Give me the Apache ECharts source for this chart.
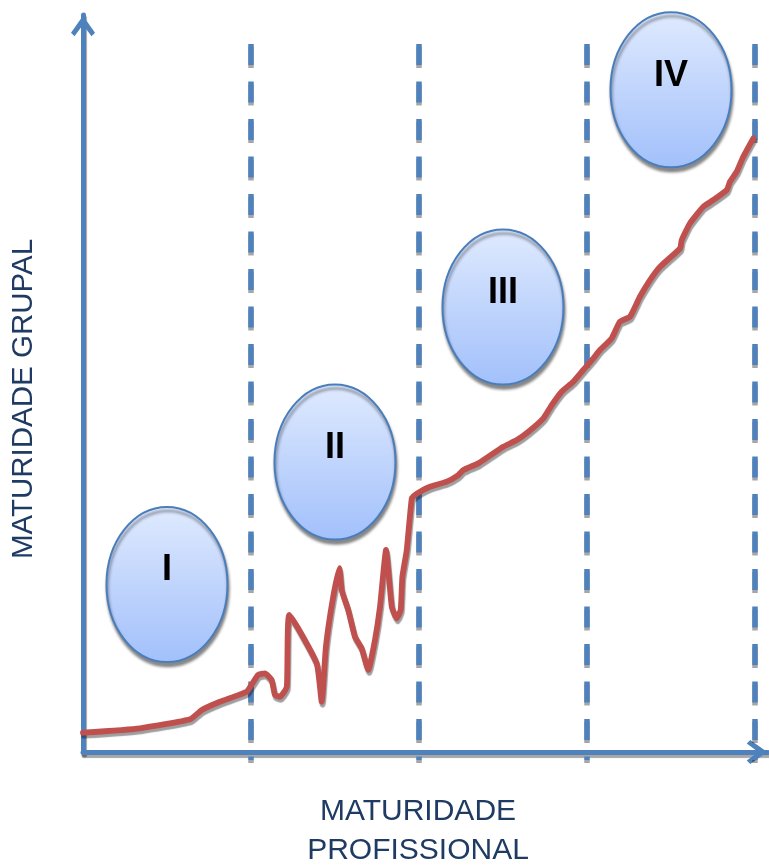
<!DOCTYPE html>
<html>
<head>
<meta charset="utf-8">
<script src="https://cdn.jsdelivr.net/npm/echarts@6/dist/echarts.min.js"></script>
<style>
html,body{margin:0;padding:0;background:#fff;}
#chart{width:769px;height:866px;}
</style>
</head>
<body>
<div id="chart"></div>
<script>
// ---- data (x: each stage = 100 units; y: 0..100) ----
const curveX = [0, 33.9, 63.7, 70.7, 81.5, 97.4, 100.6, 104.2, 108.3, 112.3, 114.3, 117.3, 121.3, 122.8, 139.1, 142.1, 144.6, 148.6, 152.6, 154.0, 157.9, 161.9, 165.9, 169.8, 173.8, 176.8, 180.4, 183.8, 186.7, 189.1, 190.1, 192.7, 195.7, 197.6, 200.6, 206.5, 216.5, 223.4, 226.4, 235.3, 241.3, 250.2, 258.2, 265.1, 274.0, 279.0, 284.9, 291.8, 297.8, 303.8, 307.7, 314.7, 319.6, 325.6, 331.5, 337.5, 343.5, 355.4, 356.4, 361.3, 369.2, 375.2, 383.2, 385.1, 389.1, 393.0, 399.0];
const curveY = [2.62, 3.22, 4.44, 5.70, 6.82, 8.18, 9.23, 10.45, 10.68, 9.77, 7.73, 7.50, 8.86, 18.59, 12.04, 6.82, 14.29, 20.62, 24.93, 21.98, 19.27, 15.64, 14.07, 11.13, 15.20, 19.72, 27.41, 19.72, 18.14, 19.27, 23.79, 27.41, 34.42, 34.87, 35.32, 36.00, 36.68, 37.58, 38.26, 39.17, 40.07, 41.42, 42.33, 43.46, 45.28, 47.08, 48.89, 50.24, 51.83, 53.42, 54.55, 56.13, 58.39, 59.07, 61.78, 64.04, 65.85, 68.34, 69.47, 71.74, 73.99, 74.90, 76.26, 77.38, 78.74, 80.77, 83.27];
const stageLabels = ['I', 'II', 'III', 'IV'];
const stageX = [50, 150, 250, 350];
const stageY = [22.73, 39.35, 60.38, 89.86];
const dividerX = [100, 200, 300, 400];
const dividerTop = 96.07;
const dividerBottom = -1.09;
const xTitle = 'MATURIDADE\nPROFISSIONAL';
const yTitle = 'MATURIDADE GRUPAL';

// ---- styles ----
const BLUE = '#4f81bd';
const RED = '#c0504d';
const NAVY = '#1f3b63';
const chevron = 'path://M12,0 L24,17 L20.5,20.5 L12,9 L3.5,20.5 L0,17 Z';

const chart = echarts.init(document.getElementById('chart'), null, {renderer: 'canvas'});

const axisLineCommon = {
  show: true,
  symbol: ['none', chevron],
  symbolSize: [24, 22],
  symbolOffset: [0, -11],
  lineStyle: {color: BLUE, width: 5, shadowColor: 'rgba(0,0,0,0.35)', shadowOffsetX: 1, shadowOffsetY: 3, shadowBlur: 1}
};

const series = [];
dividerX.forEach(function (dx) {
  series.push({
    type: 'line',
    data: [[dx, dividerTop], [dx, dividerBottom]],
    symbol: 'none',
    clip: false,
    silent: true,
    z: 1,
    lineStyle: {color: BLUE, width: 5.5, type: [21, 16.5], cap: 'butt',
      shadowColor: 'rgba(0,0,0,0.35)', shadowOffsetX: 0, shadowOffsetY: 3, shadowBlur: 0}
  });
});

series.push({
  type: 'line',
  data: curveX.map(function (x, i) { return [x, curveY[i]]; }),
  symbol: 'none',
  smooth: 0.15,
  clip: false,
  z: 3,
  lineStyle: {color: RED, width: 5.8, join: 'round', cap: 'round',
    shadowColor: 'rgba(0,0,0,0.38)', shadowOffsetX: 1, shadowOffsetY: 3, shadowBlur: 1}
});

series.push({
  type: 'custom',
  z: 5,
  data: stageX.map(function (x, i) { return [x, stageY[i]]; }),
  renderItem: function (params, api) {
    const c = api.coord([api.value(0), api.value(1)]);
    return {
      type: 'group',
      children: [
        {
          type: 'ellipse',
          shape: {cx: c[0], cy: c[1], rx: 60.5, ry: 77.5},
          style: {
            fill: new echarts.graphic.LinearGradient(0, 0, 0, 1, [
              {offset: 0, color: '#dfeafe'},
              {offset: 1, color: '#a2c0fb'}
            ]),
            stroke: '#4a7ebb', lineWidth: 2,
            shadowColor: 'rgba(0,0,0,0.45)', shadowBlur: 3, shadowOffsetX: 1, shadowOffsetY: 4
          }
        },
        {
          type: 'text',
          x: c[0], y: c[1] - 14,
          style: {
            text: stageLabels[params.dataIndex],
            fill: '#000',
            font: 'bold 36px "Liberation Sans", Arial, sans-serif',
            align: 'center', verticalAlign: 'middle'
          }
        }
      ]
    };
  }
});

chart.setOption({
  animation: false,
  backgroundColor: '#fff',
  grid: {left: 83, right: 1, top: 15, bottom: 114, containLabel: false},
  xAxis: {
    type: 'value', min: 0, max: 407.74,
    axisLine: axisLineCommon,
    axisTick: {show: false}, axisLabel: {show: false}, splitLine: {show: false}
  },
  yAxis: {
    type: 'value', min: 0, max: 100,
    axisLine: axisLineCommon,
    axisTick: {show: false}, axisLabel: {show: false}, splitLine: {show: false}
  },
  graphic: [
    {
      type: 'text',
      x: 24, y: 399,
      rotation: Math.PI / 2,
      style: {text: yTitle, fill: NAVY, font: '29.5px "Liberation Sans", Arial, sans-serif',
        align: 'center', verticalAlign: 'middle'}
    },
    {
      type: 'text',
      x: 418, y: 831,
      style: {text: xTitle, fill: NAVY, font: '30px "Liberation Sans", Arial, sans-serif',
        align: 'center', verticalAlign: 'middle', lineHeight: 38.5}
    }
  ],
  series: series
});
</script>
</body>
</html>
